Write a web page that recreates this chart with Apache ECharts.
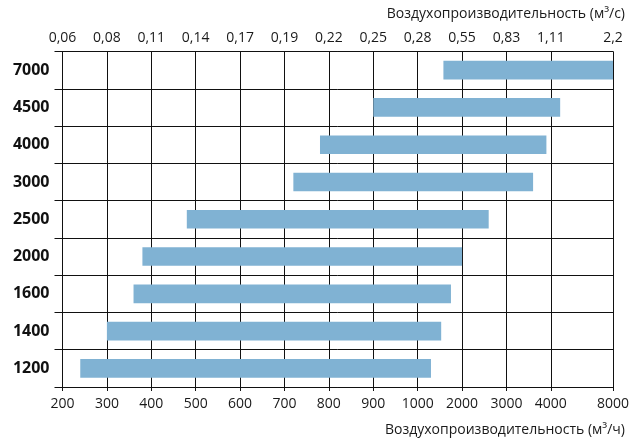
<!DOCTYPE html>
<html>
<head>
<meta charset="utf-8">
<script src="https://cdn.jsdelivr.net/npm/echarts@6/dist/echarts.min.js"></script>
<style>
html,body{margin:0;padding:0;background:#fff;}
#chart{width:635px;height:439px;}
</style>
</head>
<body>
<div id="chart"></div>
<script>
// Categories (bottom to top)
var categories = ['1200','1400','1600','2000','2500','3000','4000','4500','7000'];
// Airflow ranges, m3/h
var flowMin = [240, 300, 360, 380, 480, 720, 780, 900, 1580];
var flowMax = [1300, 1530, 1750, 2000, 2600, 3600, 3900, 4600, 8000];
// Bottom axis tick values (m3/h)
var bottomTicks = [200, 300, 400, 500, 600, 700, 800, 900, 1000, 2000, 3000, 4000, 8000];
// Top axis tick labels (m3/s)
var topTickLabels = ['0,06','0,08','0,11','0,14','0,17','0,19','0,22','0,25','0,28','0,55','0,83','1,11','2,2'];
// Scale definition: position of each bottom tick along the axis (non-uniform scale)
var tickPos = [0,1,2,3,4,5,6,7,8,9,10,11,12.4];

function toPos(v){
  for (var i=0;i<bottomTicks.length-1;i++){
    if (v<=bottomTicks[i+1]){
      var t=(v-bottomTicks[i])/(bottomTicks[i+1]-bottomTicks[i]);
      return tickPos[i]+t*(tickPos[i+1]-tickPos[i]);
    }
  }
  return tickPos[tickPos.length-1];
}
var basePos = flowMin.map(toPos);
var spanPos = flowMax.map(function(v,i){return toPos(v)-basePos[i];});

function labelAt(arr){
  return function(val){
    for (var i=0;i<tickPos.length;i++){ if (Math.abs(tickPos[i]-val)<1e-6) return arr[i]; }
    return '';
  };
}
var FONT = '"Open Sans", "Noto Sans", sans-serif';
var lineCol = '#111';

var chart = echarts.init(document.getElementById('chart'), null, {renderer:'canvas'});
chart.setOption({
  animation:false,
  backgroundColor:'#fff',
  grid:{left:62.5, right:22, top:51.5, bottom:52},
  xAxis:[{
    type:'value', position:'bottom', min:0, max:tickPos[tickPos.length-1],
    axisLine:{show:true, lineStyle:{color:lineCol, width:1}},
    axisTick:{show:true, length:4, inside:false, customValues:tickPos, lineStyle:{color:lineCol}},
    axisLabel:{customValues:tickPos, formatter:labelAt(bottomTicks.map(String)), color:'#1a1a1a', fontFamily:FONT, fontSize:14, margin:10},
    splitLine:{show:true, lineStyle:{color:lineCol, width:1}}
  },{
    type:'value', position:'top', min:0, max:tickPos[tickPos.length-1],
    axisLine:{show:true, lineStyle:{color:lineCol, width:1}},
    axisTick:{show:false, customValues:tickPos},
    axisLabel:{customValues:tickPos, formatter:labelAt(topTickLabels), color:'#1a1a1a', fontFamily:FONT, fontSize:14, margin:6},
    splitLine:{show:false}
  }],
  yAxis:{
    type:'category', data:categories, boundaryGap:true,
    axisLine:{show:true, lineStyle:{color:lineCol, width:1}},
    axisTick:{show:true, length:8, lineStyle:{color:lineCol}},
    axisLabel:{color:'#111', fontFamily:FONT, fontSize:16, fontWeight:'bold', margin:13},
    splitLine:{show:true, lineStyle:{color:lineCol, width:1}}
  },
  graphic:[
    {type:'text', right:10, top:7, style:{text:'Воздухопроизводительность (м³/с)', font:'14px '+FONT, fill:'#1a1a1a'}},
    {type:'text', right:10, top:423, style:{text:'Воздухопроизводительность (м³/ч)', font:'14px '+FONT, fill:'#1a1a1a'}}
  ],
  series:[
    {type:'bar', stack:'r', data:basePos, barWidth:'50%', itemStyle:{color:'rgba(0,0,0,0)'}, silent:true},
    {type:'bar', stack:'r', data:spanPos, barWidth:'50%', itemStyle:{color:'#80b2d3'}}
  ]
});
</script>
</body>
</html>
